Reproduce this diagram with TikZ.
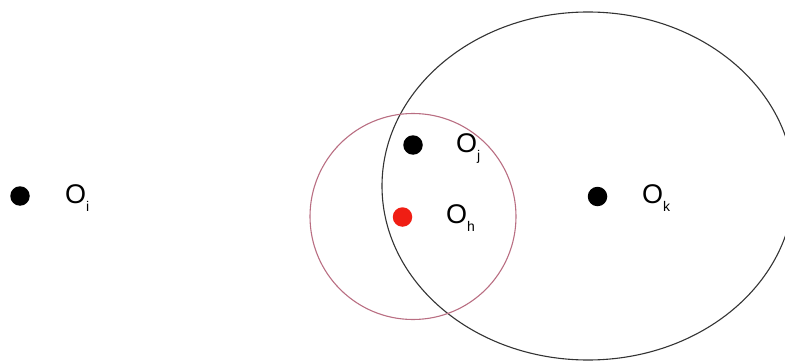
\documentclass[tikz,border=0pt]{standalone}
\usepackage{fontspec}
\setmainfont{Liberation Sans}
\usetikzlibrary{shapes.geometric}
\definecolor{rosy}{RGB}{185,110,130}
\definecolor{dotred}{RGB}{240,30,20}
\newcommand{\lblsub}[1]{\raisebox{-8pt}{\fontsize{14}{14}\selectfont #1}}
\tikzset{
  dot/.style={circle, fill=black, minimum size=19.5pt, inner sep=0pt},
  lbl/.style={anchor=base west, inner sep=0pt, font=\fontsize{27}{27}\selectfont},
}
\begin{document}
\begin{tikzpicture}[x=1pt,y=-1pt]
\useasboundingbox (0,0) rectangle (785,361);
\node[draw=black!80, line width=1.1pt, ellipse, minimum width=412pt, minimum height=348pt, inner sep=0pt] (big) at (588,186) {};
\node[draw=rosy, line width=1.1pt, circle, minimum size=206pt, inner sep=0pt] (small) at (413,216.5) {};
\node[dot] (oi) at (20,196) {};
\node[dot] (oj) at (413,145) {};
\node[dot, fill=dotred] (oh) at (402.5,217) {};
\node[dot] (ok) at (597.5,196.5) {};
\node[lbl] (li) at (65,203) {O\lblsub{i}};
\node[lbl] (lj) at (456,152) {O\lblsub{j}};
\node[lbl] (lh) at (446,223) {O\lblsub{h}};
\node[lbl] (lk) at (642,203) {O\lblsub{k}};
\end{tikzpicture}
\end{document}
